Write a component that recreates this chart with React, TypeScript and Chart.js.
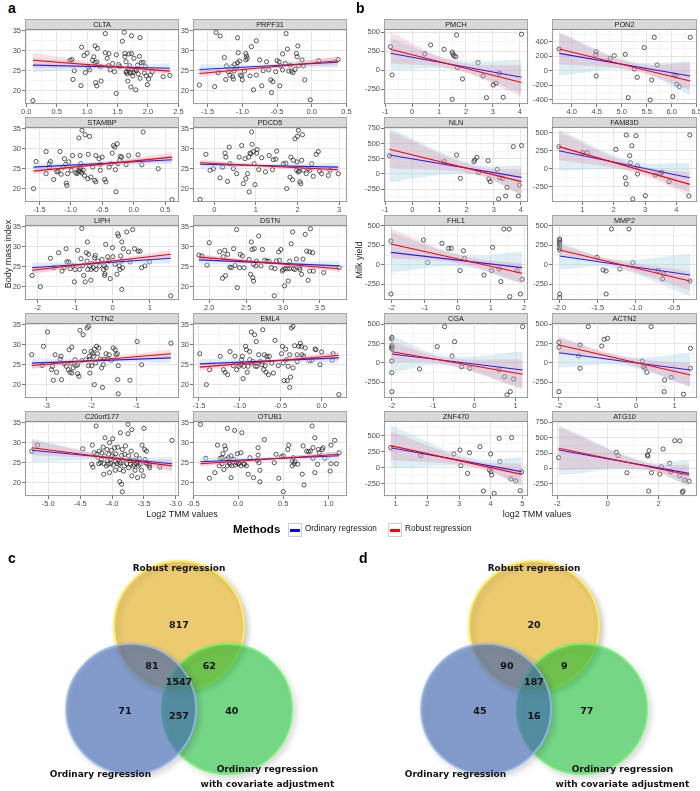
import React, { useEffect, useRef } from 'react';
import { Chart, registerables } from 'chart.js';
Chart.register(...registerables);

// ---------------- Panel a : Body mass index ----------------
const Y_A_TICKS = [20, 25, 30, 35];
const Y_A_LIM = [16.65, 35.45];

const CLTA_PTS = [[0.11,17.5],[0.72,27.6],[0.75,27.8],[0.77,22.8],[0.79,25.0],[0.91,30.9],[0.90,21.25],[0.95,28.8],[0.97,24.5],[1.0,29.4],[1.02,25.8],[1.04,25.2],[1.09,27.6],[1.11,28.5],[1.13,27.0],[1.13,31.2],[1.14,22.0],[1.16,21.2],[1.17,30.6],[1.16,27.2],[1.22,26.0],[1.23,22.4],[1.30,34.3],[1.30,29.5],[1.33,28.1],[1.36,29.25],[1.35,26.25],[1.38,25.2],[1.42,26.8],[1.45,24.75],[1.48,29.0],[1.48,19.3],[1.52,26.5],[1.54,26.0],[1.58,32.4],[1.61,34.6],[1.62,29.3],[1.62,28.5],[1.64,27.25],[1.65,24.75],[1.66,24.2],[1.67,22.4],[1.68,25.6],[1.69,29.2],[1.70,26.25],[1.72,24.4],[1.72,20.9],[1.73,33.75],[1.73,29.3],[1.75,23.7],[1.77,28.1],[1.79,25.2],[1.80,20.2],[1.81,25.0],[1.83,26.4],[1.84,24.2],[1.86,28.6],[1.87,33.3],[1.87,23.1],[1.89,27.0],[1.92,27.1],[1.94,24.4],[1.96,26.0],[1.97,23.7],[1.99,21.5],[2.01,22.9],[2.04,23.9],[2.07,24.75],[2.25,23.5],[2.36,23.8],[1.70,24.6],[1.76,24.6],[1.64,24.6]];
const CLTA_X = [0.11, 1.5, 2.36];
const CLTA_OLS = [26.4, 25.6];
const CLTA_OLS_LO = [24.65, 25.4, 24.35];
const CLTA_OLS_HI = [28.15, 26.4, 26.85];
const CLTA_ROB = [27.6, 24.9];
const CLTA_ROB_LO = [25.7, 25.5, 24.0];
const CLTA_ROB_HI = [29.5, 26.35, 25.8];
const CLTA_XTICKS = [0, 0.5, 1, 1.5, 2, 2.5];
const CLTA_XLIM = [-0.02, 2.51];

const PRPF31_PTS = [[-1.62,21.4],[-1.40,21.0],[-1.38,34.6],[-1.32,33.7],[-1.35,24.5],[-1.26,28.3],[-1.24,22.8],[-1.23,26.2],[-1.20,24.75],[-1.18,23.9],[-1.15,26.0],[-1.14,23.5],[-1.13,22.9],[-1.12,24.9],[-1.11,26.6],[-1.08,26.0],[-1.07,27.0],[-1.07,33.25],[-1.06,29.5],[-1.04,27.4],[-1.03,23.9],[-1.01,23.7],[-1.0,22.7],[-0.97,24.9],[-0.95,27.7],[-0.95,29.3],[-0.94,28.7],[-0.93,28.1],[-0.89,23.7],[-0.87,31.0],[-0.84,20.2],[-0.80,32.5],[-0.80,23.9],[-0.75,27.7],[-0.72,21.2],[-0.70,25.0],[-0.65,27.25],[-0.62,25.2],[-0.59,22.7],[-0.58,19.5],[-0.56,22.25],[-0.52,24.75],[-0.50,27.5],[-0.47,27.25],[-0.46,21.2],[-0.45,26.2],[-0.42,29.2],[-0.42,25.2],[-0.38,26.8],[-0.37,34.3],[-0.35,30.4],[-0.33,24.9],[-0.31,26.4],[-0.29,24.9],[-0.27,24.5],[-0.24,25.3],[-0.22,29.3],[-0.21,28.5],[-0.20,31.2],[-0.19,26.25],[-0.14,27.7],[-0.10,22.7],[-0.12,26.2],[-0.02,17.7],[0.10,27.5],[0.38,27.8]];
const PRPF31_X = [-1.62, -0.7, 0.38];
const PRPF31_OLS = [25.3, 27.1];
const PRPF31_OLS_LO = [24.0, 25.6, 25.8];
const PRPF31_OLS_HI = [26.6, 26.6, 28.4];
const PRPF31_ROB = [24.3, 27.5];
const PRPF31_ROB_LO = [23.4, 25.4, 26.4];
const PRPF31_ROB_HI = [25.2, 26.2, 28.6];
const PRPF31_XTICKS = [-1.5, -1.0, -0.5, 0.0, 0.5];
const PRPF31_XLIM = [-1.712, 0.509];

const STAMBP_PTS = [[-1.59,20.0],[-1.55,26.8],[-1.39,29.3],[-1.34,26.25],[-1.32,26.8],[-1.34,25.4],[-1.39,23.75],[-1.27,22.3],[-1.22,24.2],[-1.20,24.4],[-1.17,29.3],[-1.15,23.6],[-1.12,25.4],[-1.10,27.5],[-1.08,26.1],[-1.07,21.4],[-1.06,20.8],[-1.05,23.75],[-1.03,26.7],[-0.99,24.6],[-0.97,28.3],[-0.87,32.7],[-0.85,28.3],[-0.84,26.25],[-0.82,34.6],[-0.85,25.0],[-0.84,24.3],[-0.82,23.9],[-0.87,24.6],[-0.90,23.75],[-0.80,24.6],[-0.78,23.3],[-0.77,33.5],[-0.73,22.5],[-0.72,28.6],[-0.70,33.1],[-0.68,22.9],[-0.65,25.4],[-0.62,22.1],[-0.60,21.7],[-0.60,28.3],[-0.55,27.5],[-0.53,26.1],[-0.53,24.6],[-0.50,27.9],[-0.46,22.3],[-0.44,21.7],[-0.39,25.4],[-0.36,26.25],[-0.34,28.9],[-0.32,30.8],[-0.30,30.4],[-0.29,24.75],[-0.28,19.2],[-0.26,31.25],[-0.25,26.25],[-0.22,27.1],[-0.21,28.1],[-0.19,27.9],[-0.12,26.0],[-0.08,28.3],[0.07,28.5],[0.13,26.0],[0.15,34.2],[0.39,25.0],[0.61,17.25],[-0.88,24.2],[-0.92,24.0]];
const STAMBP_X = [-1.59, -0.6, 0.61];
const STAMBP_OLS = [25.4, 27.25];
const STAMBP_OLS_LO = [24.5, 25.7, 26.25];
const STAMBP_OLS_HI = [26.3, 26.75, 28.25];
const STAMBP_ROB = [24.4, 27.9];
const STAMBP_ROB_LO = [23.6, 25.55, 26.65];
const STAMBP_ROB_HI = [25.2, 26.4, 29.15];
const STAMBP_XTICKS = [-1.5, -1.0, -0.5, 0.0, 0.5];
const STAMBP_XLIM = [-1.725, 0.72];

const PDCD5_PTS = [[-0.34,17.3],[-0.20,28.6],[-0.10,24.6],[-0.02,25.0],[0.14,22.7],[0.20,25.4],[0.26,28.9],[0.28,27.9],[0.32,21.8],[0.36,30.4],[0.38,26.25],[0.46,25.0],[0.54,23.75],[0.60,27.9],[0.66,30.8],[0.70,21.25],[0.74,27.5],[0.76,22.5],[0.80,23.75],[0.83,27.9],[0.84,19.2],[0.86,28.9],[0.88,28.75],[0.90,34.2],[0.91,31.1],[0.94,29.3],[0.96,26.25],[0.98,21.0],[1.02,28.9],[1.03,29.8],[1.07,24.75],[1.14,27.75],[1.23,24.2],[1.32,28.3],[1.40,24.75],[1.42,27.25],[1.48,27.4],[1.50,29.4],[1.66,26.25],[1.72,26.4],[1.74,20.0],[1.82,22.9],[1.84,27.9],[1.88,22.25],[1.90,27.1],[1.94,32.5],[2.0,33.1],[2.02,34.6],[1.98,24.6],[1.99,26.7],[2.02,24.2],[2.04,24.4],[2.06,21.7],[2.08,21.25],[2.12,33.5],[2.10,27.1],[2.14,24.6],[2.21,23.75],[2.26,25.0],[2.30,24.6],[2.34,26.25],[2.38,23.1],[2.45,28.6],[2.50,29.3],[2.53,24.4],[2.58,23.75],[2.74,23.3],[2.78,24.6],[2.98,23.75]];
const PDCD5_X = [-0.34, 1.4, 2.98];
const PDCD5_OLS = [26.1, 25.4];
const PDCD5_OLS_LO = [25.1, 25.25, 24.4];
const PDCD5_OLS_HI = [27.1, 26.2, 26.4];
const PDCD5_ROB = [26.5, 24.75];
const PDCD5_ROB_LO = [25.9, 25.2, 24.15];
const PDCD5_ROB_HI = [27.1, 25.95, 25.35];
const PDCD5_XTICKS = [0, 1, 2, 3];
const PDCD5_XLIM = [-0.51, 3.19];

const LIPH_PTS = [[-2.15,22.8],[-1.93,20.0],[-1.66,27.1],[-1.57,24.75],[-1.44,28.5],[-1.35,23.9],[-1.29,24.75],[-1.24,29.5],[-1.22,26.2],[-1.17,26.2],[-1.13,24.5],[-1.06,25.2],[-1.02,21.2],[-1.0,24.3],[-0.93,29.1],[-0.88,24.3],[-0.84,27.0],[-0.82,34.6],[-0.79,25.3],[-0.77,22.8],[-0.73,21.2],[-0.70,28.5],[-0.68,26.4],[-0.67,31.2],[-0.66,24.3],[-0.64,28.1],[-0.61,25.2],[-0.58,21.6],[-0.57,24.3],[-0.54,25.8],[-0.51,24.75],[-0.48,27.25],[-0.46,27.8],[-0.44,24.3],[-0.39,26.4],[-0.35,25.2],[-0.28,26.8],[-0.24,24.3],[-0.21,22.8],[-0.20,23.25],[-0.18,30.6],[-0.21,25.2],[-0.17,24.75],[-0.13,27.5],[-0.09,26.4],[-0.06,22.0],[0.0,29.75],[0.01,27.5],[0.07,25.6],[0.12,23.1],[0.14,33.25],[0.16,32.7],[0.18,25.2],[0.20,24.3],[0.22,27.7],[0.25,26.4],[0.27,24.75],[0.25,31.2],[0.25,19.3],[0.29,29.5],[0.38,33.7],[0.43,28.7],[0.47,26.2],[0.54,34.3],[0.59,29.5],[0.69,28.9],[0.74,28.9],[0.78,24.75],[0.87,25.2],[0.99,26.2],[1.56,17.7]];
const LIPH_X = [-2.15, -0.3, 1.56];
const LIPH_OLS = [24.75, 27.1];
const LIPH_OLS_LO = [23.45, 25.45, 25.8];
const LIPH_OLS_HI = [26.05, 26.4, 28.4];
const LIPH_ROB = [24.1, 28.1];
const LIPH_ROB_LO = [23.1, 25.7, 27.0];
const LIPH_ROB_HI = [25.1, 26.5, 29.2];
const LIPH_XTICKS = [-2, -1, 0, 1];
const LIPH_XLIM = [-2.34, 1.78];

const DSTN_PTS = [[1.86,27.9],[1.90,27.7],[1.97,25.4],[2.0,31.0],[2.14,28.75],[2.18,22.1],[2.19,27.5],[2.21,29.1],[2.22,22.75],[2.25,28.1],[2.28,24.9],[2.30,24.75],[2.33,29.5],[2.35,25.3],[2.37,34.3],[2.38,19.75],[2.41,24.75],[2.42,28.1],[2.45,27.7],[2.47,24.75],[2.54,26.8],[2.56,23.1],[2.57,31.2],[2.58,29.3],[2.59,22.25],[2.60,25.6],[2.60,21.4],[2.61,29.5],[2.63,25.2],[2.64,26.4],[2.67,32.7],[2.70,25.2],[2.72,29.3],[2.75,26.6],[2.78,26.4],[2.81,26.4],[2.84,24.75],[2.88,17.7],[2.89,24.5],[2.91,26.4],[2.94,28.7],[2.95,26.6],[2.97,29.3],[2.99,23.9],[3.0,24.3],[3.02,20.2],[3.03,24.5],[3.06,24.5],[3.07,21.4],[3.09,24.5],[3.09,26.4],[3.11,30.75],[3.13,33.7],[3.14,24.5],[3.16,24.3],[3.18,26.9],[3.22,24.75],[3.23,24.3],[3.25,23.1],[3.27,26.9],[3.30,33.1],[3.32,28.9],[3.34,21.6],[3.36,28.7],[3.36,23.9],[3.37,34.5],[3.40,28.5],[3.41,23.9],[3.55,23.5],[3.76,24.75]];
const DSTN_X = [1.86, 2.8, 3.76];
const DSTN_OLS = [26.7, 25.2];
const DSTN_OLS_LO = [25.5, 25.5, 24.0];
const DSTN_OLS_HI = [27.9, 26.4, 26.4];
const DSTN_ROB = [27.4, 24.5];
const DSTN_ROB_LO = [26.6, 25.6, 23.7];
const DSTN_ROB_HI = [28.2, 26.3, 25.3];
const DSTN_XTICKS = [2.0, 2.5, 3.0, 3.5];
const DSTN_XLIM = [1.78, 3.866];

const TCTN2_PTS = [[-3.33,27.5],[-3.10,24.8],[-3.07,29.6],[-2.98,33.2],[-2.89,23.75],[-2.87,24.6],[-2.85,21.1],[-2.81,27.5],[-2.78,23.1],[-2.70,26.4],[-2.68,27.1],[-2.67,21.25],[-2.61,25.25],[-2.56,24.6],[-2.52,23.75],[-2.50,28.75],[-2.48,23.1],[-2.46,25.4],[-2.44,29.4],[-2.44,22.9],[-2.41,24.2],[-2.37,26.25],[-2.35,24.75],[-2.31,25.0],[-2.31,22.75],[-2.28,22.1],[-2.26,33.6],[-2.22,26.0],[-2.19,32.5],[-2.16,28.3],[-2.13,26.25],[-2.10,34.2],[-2.07,34.6],[-2.07,24.75],[-2.05,27.1],[-2.04,26.4],[-2.04,22.9],[-2.01,28.3],[-2.0,24.75],[-1.98,27.75],[-1.96,27.1],[-1.94,28.9],[-1.94,20.0],[-1.91,25.4],[-1.89,29.6],[-1.87,27.75],[-1.84,29.2],[-1.81,26.4],[-1.78,24.2],[-1.76,19.3],[-1.74,25.0],[-1.72,26.4],[-1.68,27.75],[-1.64,26.4],[-1.61,27.5],[-1.56,26.1],[-1.52,29.2],[-1.48,28.75],[-1.46,27.5],[-1.43,27.75],[-1.42,21.25],[-1.41,17.7],[-1.41,24.75],[-1.15,21.1],[-0.99,30.8],[-0.89,25.0],[-0.24,30.4]];
const TCTN2_X = [-3.33, -2.0, -0.24];
const TCTN2_OLS = [25.4, 26.7];
const TCTN2_OLS_LO = [24.2, 25.5, 25.4];
const TCTN2_OLS_HI = [26.6, 26.4, 28.0];
const TCTN2_ROB = [24.8, 27.75];
const TCTN2_ROB_LO = [23.9, 25.7, 26.65];
const TCTN2_ROB_HI = [25.7, 26.45, 28.85];
const TCTN2_XTICKS = [-3, -2, -1];
const TCTN2_XLIM = [-3.48, -0.06];

const EML4_PTS = [[-1.49,27.75],[-1.41,20.0],[-1.37,23.75],[-1.24,27.1],[-1.20,23.75],[-1.18,23.1],[-1.15,22.5],[-1.12,28.3],[-1.08,24.75],[-1.06,27.1],[-1.04,23.75],[-1.01,24.6],[-0.99,25.0],[-0.98,26.25],[-0.97,27.1],[-0.96,21.5],[-0.95,24.6],[-0.93,29.6],[-0.92,28.75],[-0.91,23.1],[-0.90,24.6],[-0.88,26.25],[-0.88,28.3],[-0.86,33.2],[-0.86,25.4],[-0.84,25.8],[-0.82,32.5],[-0.81,24.6],[-0.80,30.8],[-0.79,24.6],[-0.77,27.5],[-0.75,25.8],[-0.73,25.0],[-0.72,33.75],[-0.71,23.75],[-0.70,27.5],[-0.69,24.75],[-0.68,23.1],[-0.67,27.1],[-0.66,26.25],[-0.65,22.5],[-0.64,27.1],[-0.61,25.4],[-0.59,22.9],[-0.57,31.1],[-0.53,24.75],[-0.49,27.75],[-0.48,29.6],[-0.47,25.4],[-0.46,21.0],[-0.44,28.9],[-0.43,26.25],[-0.42,21.0],[-0.41,24.6],[-0.39,19.3],[-0.39,27.5],[-0.38,21.9],[-0.37,34.2],[-0.35,34.6],[-0.35,24.2],[-0.33,29.75],[-0.30,25.8],[-0.30,27.5],[-0.28,29.6],[-0.26,30.4],[-0.25,29.6],[-0.24,27.5],[-0.22,27.1],[-0.20,29.2],[-0.15,26.0],[-0.12,26.1],[-0.08,28.9],[-0.07,28.75],[-0.02,25.0],[0.0,28.2],[0.13,26.1],[0.14,27.75],[0.21,17.5]];
const EML4_X = [-1.49, -0.65, 0.21];
const EML4_OLS = [25.2, 26.7];
const EML4_OLS_LO = [24.0, 25.5, 25.5];
const EML4_OLS_HI = [26.4, 26.4, 27.9];
const EML4_ROB = [24.4, 27.3];
const EML4_ROB_LO = [23.4, 25.45, 26.3];
const EML4_ROB_HI = [25.4, 26.2, 28.3];
const EML4_XTICKS = [-1.5, -1.0, -0.5, 0.0];
const EML4_XLIM = [-1.573, 0.31];

const C20ORF177_PTS = [[-5.26,27.9],[-5.17,29.4],[-4.46,28.5],[-4.32,24.6],[-4.31,29.4],[-4.30,23.9],[-4.28,27.5],[-4.25,34.2],[-4.24,27.1],[-4.22,26.25],[-4.21,24.75],[-4.20,27.9],[-4.18,25.0],[-4.17,25.8],[-4.16,27.5],[-4.14,28.9],[-4.13,24.75],[-4.13,22.1],[-4.12,26.7],[-4.11,31.25],[-4.09,24.2],[-4.08,28.3],[-4.07,25.6],[-4.06,24.6],[-4.05,27.1],[-4.04,30.0],[-4.04,22.5],[-4.03,25.8],[-4.02,24.75],[-4.01,28.1],[-4.0,26.7],[-3.99,31.0],[-3.98,24.4],[-3.97,26.25],[-3.96,28.75],[-3.95,25.4],[-3.95,23.1],[-3.94,27.25],[-3.92,24.75],[-3.91,28.9],[-3.91,25.8],[-3.89,24.6],[-3.88,20.25],[-3.88,23.3],[-3.87,32.5],[-3.87,25.0],[-3.85,19.6],[-3.85,26.8],[-3.84,17.7],[-3.84,28.3],[-3.83,25.6],[-3.82,22.9],[-3.81,24.2],[-3.80,27.1],[-3.79,29.2],[-3.77,24.75],[-3.75,32.25],[-3.74,26.7],[-3.74,23.75],[-3.72,25.6],[-3.71,24.6],[-3.70,27.9],[-3.69,33.3],[-3.69,21.7],[-3.67,24.2],[-3.66,25.6],[-3.65,24.6],[-3.64,23.1],[-3.62,26.9],[-3.61,24.75],[-3.60,25.4],[-3.60,21.25],[-3.75,34.6],[-3.59,24.2],[-3.57,26.0],[-3.56,24.6],[-3.54,23.1],[-3.53,29.4],[-3.51,21.7],[-3.50,33.6],[-3.49,28.3],[-3.48,25.8],[-3.47,25.0],[-3.46,27.9],[-3.45,24.75],[-3.42,24.2],[-3.41,24.75],[-3.41,23.75],[-3.25,23.9],[-3.06,30.6]];
const C20ORF177_X = [-5.26, -3.85, -3.06];
const C20ORF177_OLS = [28.1, 24.75];
const C20ORF177_OLS_LO = [25.2, 25.5, 23.05];
const C20ORF177_OLS_HI = [31.0, 26.4, 26.45];
const C20ORF177_ROB = [28.75, 24.2];
const C20ORF177_ROB_LO = [26.9, 25.45, 22.7];
const C20ORF177_ROB_HI = [30.6, 26.2, 25.7];
const C20ORF177_XTICKS = [-5.0, -4.5, -4.0, -3.5, -3.0];
const C20ORF177_XLIM = [-5.366, -2.95];

const OTUB1_PTS = [[-0.42,34.6],[-0.36,26.1],[-0.32,21.1],[-0.26,22.5],[-0.23,29.4],[-0.21,24.2],[-0.20,26.1],[-0.18,24.75],[-0.18,26.25],[-0.17,27.25],[-0.16,23.3],[-0.15,29.2],[-0.14,28.4],[-0.13,25.8],[-0.12,33.6],[-0.12,24.2],[-0.11,26.25],[-0.10,25.0],[-0.09,24.6],[-0.08,26.7],[-0.08,21.25],[-0.07,24.2],[-0.05,25.8],[-0.04,33.1],[-0.03,24.4],[-0.02,25.0],[-0.01,27.25],[0.0,24.75],[0.01,24.75],[0.03,27.5],[0.03,24.2],[0.04,32.5],[0.06,24.75],[0.07,24.6],[0.09,24.2],[0.11,22.1],[0.13,26.25],[0.17,21.25],[0.21,25.6],[0.22,28.75],[0.22,26.9],[0.23,25.0],[0.24,23.1],[0.24,20.2],[0.29,30.8],[0.40,25.0],[0.42,27.1],[0.45,21.1],[0.48,26.5],[0.50,17.75],[0.50,26.75],[0.55,28.3],[0.56,29.4],[0.60,24.2],[0.60,25.4],[0.61,26.25],[0.62,24.75],[0.63,25.25],[0.66,24.6],[0.71,22.1],[0.72,29.2],[0.73,19.4],[0.76,27.9],[0.78,27.75],[0.80,27.9],[0.82,34.2],[0.83,28.75],[0.83,26.1],[0.85,31.25],[0.85,22.5],[0.88,24.6],[0.89,28.3],[0.90,27.5],[0.93,28.3],[0.94,28.75],[0.96,26.1],[1.02,22.9],[1.03,24.75],[1.03,29.4],[1.07,30.6],[1.09,24.75],[1.12,27.5]];
const OTUB1_X = [-0.42, 0.35, 1.12];
const OTUB1_OLS = [25.25, 26.75];
const OTUB1_OLS_LO = [24.25, 25.55, 25.75];
const OTUB1_OLS_HI = [26.25, 26.45, 27.75];
const OTUB1_ROB = [24.75, 27.1];
const OTUB1_ROB_LO = [24.05, 25.55, 26.4];
const OTUB1_ROB_HI = [25.45, 26.3, 27.8];
const OTUB1_XTICKS = [-0.5, 0.0, 0.5, 1.0];
const OTUB1_XLIM = [-0.502, 1.207];

// ---------------- Panel b : Milk yield ----------------
const PMCH_PTS = [[-0.80,311],[-0.74,-61],[0.47,215],[0.69,333],[1.19,276],[1.49,237],[1.52,211],[1.56,189],[1.62,180],[1.65,465],[1.68,35],[1.49,-382],[1.87,-114],[2.45,101],[2.63,-75],[2.76,-360],[3.01,-193],[3.11,-171],[3.24,-40],[3.38,-355],[4.06,474]];
const PMCH_X = [-0.80, 1.6, 4.06];
const PMCH_OLS = [224, -92];
const PMCH_OLS_LO = [-4, 3, -303];
const PMCH_OLS_HI = [421, 133, 136];
const PMCH_ROB = [276, -160];
const PMCH_ROB_LO = [92, 6, -347];
const PMCH_ROB_HI = [500, 116, 70];
const PMCH_XTICKS = [-1, 0, 1, 2, 3, 4];
const PMCH_XLIM = [-1.04, 4.3];
const PMCH_YTICKS = [-250, 0, 250, 500];
const PMCH_YLIM = [-443, 543];

const PON2_PTS = [[3.75,299],[4.49,263],[4.48,217],[4.77,171],[4.85,208],[4.49,-71],[5.07,226],[5.13,-368],[5.45,318],[5.25,25],[5.31,-89],[5.65,459],[5.60,-126],[5.57,-400],[5.71,80],[6.02,-354],[6.05,-57],[6.09,-71],[6.10,-185],[6.15,-217],[6.37,459]];
const PON2_X = [3.75, 5.2, 6.37];
const PON2_OLS = [240, -71];
const PON2_OLS_LO = [-71, 8, -331];
const PON2_OLS_HI = [528, 128, 135];
const PON2_ROB = [299, -139];
const PON2_ROB_LO = [90, 5, -263];
const PON2_ROB_HI = [514, 110, 103];
const PON2_XTICKS = [4.0, 4.5, 5.0, 5.5, 6.0, 6.5];
const PON2_XLIM = [3.606, 6.505];
const PON2_YTICKS = [-400, -200, 0, 200, 400];
const PON2_YLIM = [-455, 574];

const NLN_PTS = [[-0.84,299],[1.18,200],[1.63,310],[1.77,-74],[2.27,200],[2.30,230],[2.38,270],[2.44,25],[2.79,217],[2.82,-85],[2.87,-129],[3.13,74],[3.22,-63],[3.32,-74],[3.49,-223],[3.44,-365],[3.72,448],[3.90,-365],[3.94,-184],[4.02,464],[3.18,-415]];
const NLN_X = [-0.84, 2.3, 4.02];
const NLN_OLS = [310, -58];
const NLN_OLS_LO = [-129, -13, -349];
const NLN_OLS_HI = [750, 157, 129];
const NLN_ROB = [404, -129];
const NLN_ROB_LO = [91, -10, -349];
const NLN_ROB_HI = [706, 130, 74];
const NLN_XTICKS = [-1, 0, 1, 2, 3, 4];
const NLN_XLIM = [-1.04, 4.26];
const NLN_YTICKS = [-250, 0, 250, 500, 750];
const NLN_YLIM = [-464, 771];

const FAM83D_PTS = [[0.25,306],[1.01,222],[1.16,222],[2.07,268],[2.40,468],[2.37,-125],[2.40,-213],[2.51,181],[2.53,83],[2.58,319],[2.61,-421],[2.71,458],[2.76,37],[2.76,-74],[3.01,-375],[3.33,-88],[3.49,-74],[3.54,-51],[3.77,-181],[4.43,468],[4.40,-380]];
const FAM83D_X = [0.25, 2.6, 4.43];
const FAM83D_OLS = [250, -125];
const FAM83D_OLS_LO = [-28, -31, -325];
const FAM83D_OLS_HI = [546, 109, 75];
const FAM83D_ROB = [306, -218];
const FAM83D_ROB_LO = [120, -45, -366];
const FAM83D_ROB_HI = [514, 67, -56];
const FAM83D_XTICKS = [1, 2, 3, 4];
const FAM83D_XLIM = [0.03, 4.66];
const FAM83D_YTICKS = [-250, 0, 250, 500];
const FAM83D_YLIM = [-463, 579];

const FHL1_PTS = [[-2.02,304],[-2.02,-374],[-1.04,317],[-0.91,27],[-0.48,274],[-0.28,210],[-0.20,210],[0.07,-75],[0.17,180],[0.20,82],[0.79,-131],[1.02,-75],[1.05,223],[1.25,-54],[1.30,-216],[1.39,457],[1.55,457],[1.57,-408],[1.79,-75],[1.89,-374],[1.94,-186]];
const FHL1_X = [-2.02, 0.1, 1.94];
const FHL1_OLS = [159, -37];
const FHL1_OLS_LO = [-101, -26, -242];
const FHL1_OLS_HI = [410, 134, 168];
const FHL1_ROB = [266, -109];
const FHL1_ROB_LO = [82, 10, -237];
const FHL1_ROB_HI = [466, 120, 19];
const FHL1_XTICKS = [-2, -1, 0, 1, 2];
const FHL1_XLIM = [-2.23, 2.12];
const FHL1_YTICKS = [-250, 0, 250, 500];
const FHL1_YLIM = [-451, 509];

const MMP2_PTS = [[-2.0,330],[-2.0,308],[-2.0,283],[-2.0,253],[-2.0,219],[-2.0,189],[-2.0,-374],[-2.0,-420],[-1.51,95],[-1.32,457],[-1.43,-67],[-1.39,-80],[-1.39,-374],[-1.21,-54],[-1.09,457],[-1.04,27],[-0.71,-75],[-0.65,-182],[-0.64,-118],[-0.29,-207]];
const MMP2_X = [-2.0, -1.3, -0.29];
const MMP2_OLS = [112, -131];
const MMP2_OLS_LO = [-60, -40, -400];
const MMP2_OLS_HI = [290, 70, 140];
const MMP2_ROB = [189, -207];
const MMP2_ROB_LO = [125, -13, -330];
const MMP2_ROB_HI = [253, 67, -80];
const MMP2_XTICKS = [-2.0, -1.5, -1.0, -0.5];
const MMP2_XLIM = [-2.1, -0.198];
const MMP2_YTICKS = [-250, 0, 250, 500];
const MMP2_YLIM = [-451, 509];

const CGA_PTS = [[-2.0,329],[-2.0,307],[-2.0,221],[-2.0,200],[-2.0,179],[-2.0,24],[-2.0,-126],[-2.0,-370],[-1.33,-79],[-0.72,466],[-0.90,209],[-0.48,273],[-0.54,89],[-0.31,-49],[-0.11,-70],[0.60,-91],[0.73,-177],[0.79,-413],[0.87,-370],[0.95,-207],[1.17,466]];
const CGA_X = [-2.0, -0.7, 1.17];
const CGA_OLS = [114, -91];
const CGA_OLS_LO = [-121, -30, -327];
const CGA_OLS_HI = [349, 90, 145];
const CGA_ROB = [144, -147];
const CGA_ROB_LO = [16, -20, -340];
const CGA_ROB_HI = [273, 70, 46];
const CGA_XTICKS = [-2, -1, 0, 1];
const CGA_XLIM = [-2.19, 1.3];
const CGA_YTICKS = [-250, 0, 250, 500];
const CGA_YLIM = [-452, 513];

const ACTN2_PTS = [[-2.0,264],[-2.0,200],[-2.0,-370],[-1.45,230],[-1.49,89],[-1.45,-70],[-1.24,466],[-0.89,217],[-0.83,303],[-0.74,316],[0.16,24],[0.19,-49],[0.23,-70],[0.28,-121],[0.39,466],[0.74,-220],[0.73,-370],[0.91,-186],[1.23,-404],[1.41,187],[1.41,-70]];
const ACTN2_X = [-2.0, -0.3, 1.41];
const ACTN2_OLS = [131, -91];
const ACTN2_OLS_LO = [-60, -40, -309];
const ACTN2_OLS_HI = [322, 80, 127];
const ACTN2_ROB = [230, -156];
const ACTN2_ROB_LO = [123, -7, -306];
const ACTN2_ROB_HI = [337, 83, -6];
const ACTN2_XTICKS = [-2, -1, 0, 1];
const ACTN2_XLIM = [-2.18, 1.58];
const ACTN2_YTICKS = [-250, 0, 250, 500];
const ACTN2_YLIM = [-452, 513];

const ZNF470_PTS = [[0.84,312],[1.79,187],[2.84,214],[3.03,276],[3.06,31],[3.33,234],[3.27,-89],[3.66,328],[3.77,-365],[4.0,214],[3.96,-36],[4.01,-62],[4.03,-115],[4.11,-401],[4.27,458],[4.29,94],[4.66,469],[4.64,-177],[4.79,-208],[4.93,-359],[4.98,-62]];
const ZNF470_X = [0.84, 3.5, 4.98];
const ZNF470_OLS = [312, -62];
const ZNF470_OLS_LO = [-10, 2, -292];
const ZNF470_OLS_HI = [660, 142, 168];
const ZNF470_ROB = [344, -104];
const ZNF470_ROB_LO = [120, 5, -271];
const ZNF470_ROB_HI = [570, 107, 63];
const ZNF470_XTICKS = [1, 2, 3, 4, 5];
const ZNF470_XLIM = [0.63, 5.18];
const ZNF470_YTICKS = [-250, 0, 250, 500];
const ZNF470_YLIM = [-442, 729];

const ATG10_PTS = [[-1.95,174],[0.33,261],[0.40,207],[0.75,-71],[1.56,217],[1.58,201],[1.62,288],[1.61,-370],[1.72,-71],[2.18,315],[2.05,-92],[2.44,81],[2.48,-54],[2.64,451],[2.84,446],[2.84,-120],[3.04,-190],[2.97,-370],[2.94,-391],[3.21,-207],[2.11,27]];
const ATG10_X = [-1.95, 1.5, 3.21];
const ATG10_OLS = [299, -82];
const ATG10_OLS_LO = [-109, -20, -299];
const ATG10_OLS_HI = [707, 108, 135];
const ATG10_ROB = [326, -109];
const ATG10_ROB_LO = [-27, -25, -272];
const ATG10_ROB_HI = [679, 95, 54];
const ATG10_XTICKS = [-2, 0, 2];
const ATG10_XLIM = [-2.21, 3.52];
const ATG10_YTICKS = [-250, 0, 250, 500, 750];
const ATG10_YLIM = [-450, 771];

// ---------------- Venn diagrams ----------------
const VENN_SET_LABELS = ['Robust regression', 'Ordinary regression', 'Ordinary regression', 'with covariate adjustment'];
// region order: robust only, ordinary only, covariate only, R∩O, R∩C, O∩C, all three
const VENN_C_COUNTS = [817, 71, 40, 81, 62, 257, 1547];
const VENN_D_COUNTS = [20, 45, 77, 90, 9, 16, 187];

// ---------------- layout / style ----------------
const FONT = '"Liberation Sans", Arial, Helvetica, sans-serif';
const A_LEFT = [25, 193];
const A_W = [154, 154];
const B_LEFT = [384, 552];
const B_W = [144, 145];
const ROW_TOP0 = 29;
const ROW_PITCH = 98;
const PLOT_H = 75;
const STRIP_H = 10;
const XAX_H = 13;
const YW_A = 24;
const YW_B = 27;
const RPAD = 9;

const VENN_R = 66;
const VENN_CENTERS = [[0, 0.63], [-0.727, -0.63], [0.727, -0.63]];
const VENN_REGION_POS = [[0, 0.64], [-0.82, -0.67], [0.8, -0.67], [-0.41, 0.02], [0.46, 0.02], [0, -0.75], [0, -0.23]];
const VENN_LABEL_POS = [[0, 1.5], [-1.19, -1.63], [1.34, -1.55], [1.34, -1.77]];
const VENN_FILL = ['rgb(236,203,110)', 'rgba(70,110,190,0.6)', 'rgba(30,205,60,0.55)'];
const VENN_EDGE = ['rgba(255,240,90,0.9)', 'rgba(150,185,240,0.8)', 'rgba(110,245,110,0.85)'];

type Facet = {
  name: string; pts: number[][]; bx: number[]; ols: number[]; olsLo: number[]; olsHi: number[];
  rob: number[]; robLo: number[]; robHi: number[]; xticks: number[]; xlim: number[]; xdec: number;
  yticks: number[]; ylim: number[]; panel: 'a' | 'b'; col: number; row: number;
};

function fa(name: string, pts: number[][], bx: number[], ols: number[], olsLo: number[], olsHi: number[], rob: number[], robLo: number[], robHi: number[], xticks: number[], xlim: number[], xdec: number, col: number, row: number): Facet {
  return { name, pts, bx, ols, olsLo, olsHi, rob, robLo, robHi, xticks, xlim, xdec, yticks: Y_A_TICKS, ylim: Y_A_LIM, panel: 'a', col, row };
}
function fb(name: string, pts: number[][], bx: number[], ols: number[], olsLo: number[], olsHi: number[], rob: number[], robLo: number[], robHi: number[], xticks: number[], xlim: number[], xdec: number, yticks: number[], ylim: number[], col: number, row: number): Facet {
  return { name, pts, bx, ols, olsLo, olsHi, rob, robLo, robHi, xticks, xlim, xdec, yticks, ylim, panel: 'b', col, row };
}

const FACETS: Facet[] = [
  fa('CLTA', CLTA_PTS, CLTA_X, CLTA_OLS, CLTA_OLS_LO, CLTA_OLS_HI, CLTA_ROB, CLTA_ROB_LO, CLTA_ROB_HI, CLTA_XTICKS, CLTA_XLIM, 1, 0, 0),
  fa('PRPF31', PRPF31_PTS, PRPF31_X, PRPF31_OLS, PRPF31_OLS_LO, PRPF31_OLS_HI, PRPF31_ROB, PRPF31_ROB_LO, PRPF31_ROB_HI, PRPF31_XTICKS, PRPF31_XLIM, 1, 1, 0),
  fa('STAMBP', STAMBP_PTS, STAMBP_X, STAMBP_OLS, STAMBP_OLS_LO, STAMBP_OLS_HI, STAMBP_ROB, STAMBP_ROB_LO, STAMBP_ROB_HI, STAMBP_XTICKS, STAMBP_XLIM, 1, 0, 1),
  fa('PDCD5', PDCD5_PTS, PDCD5_X, PDCD5_OLS, PDCD5_OLS_LO, PDCD5_OLS_HI, PDCD5_ROB, PDCD5_ROB_LO, PDCD5_ROB_HI, PDCD5_XTICKS, PDCD5_XLIM, 0, 1, 1),
  fa('LIPH', LIPH_PTS, LIPH_X, LIPH_OLS, LIPH_OLS_LO, LIPH_OLS_HI, LIPH_ROB, LIPH_ROB_LO, LIPH_ROB_HI, LIPH_XTICKS, LIPH_XLIM, 0, 0, 2),
  fa('DSTN', DSTN_PTS, DSTN_X, DSTN_OLS, DSTN_OLS_LO, DSTN_OLS_HI, DSTN_ROB, DSTN_ROB_LO, DSTN_ROB_HI, DSTN_XTICKS, DSTN_XLIM, 1, 1, 2),
  fa('TCTN2', TCTN2_PTS, TCTN2_X, TCTN2_OLS, TCTN2_OLS_LO, TCTN2_OLS_HI, TCTN2_ROB, TCTN2_ROB_LO, TCTN2_ROB_HI, TCTN2_XTICKS, TCTN2_XLIM, 0, 0, 3),
  fa('EML4', EML4_PTS, EML4_X, EML4_OLS, EML4_OLS_LO, EML4_OLS_HI, EML4_ROB, EML4_ROB_LO, EML4_ROB_HI, EML4_XTICKS, EML4_XLIM, 1, 1, 3),
  fa('C20orf177', C20ORF177_PTS, C20ORF177_X, C20ORF177_OLS, C20ORF177_OLS_LO, C20ORF177_OLS_HI, C20ORF177_ROB, C20ORF177_ROB_LO, C20ORF177_ROB_HI, C20ORF177_XTICKS, C20ORF177_XLIM, 1, 0, 4),
  fa('OTUB1', OTUB1_PTS, OTUB1_X, OTUB1_OLS, OTUB1_OLS_LO, OTUB1_OLS_HI, OTUB1_ROB, OTUB1_ROB_LO, OTUB1_ROB_HI, OTUB1_XTICKS, OTUB1_XLIM, 1, 1, 4),
  fb('PMCH', PMCH_PTS, PMCH_X, PMCH_OLS, PMCH_OLS_LO, PMCH_OLS_HI, PMCH_ROB, PMCH_ROB_LO, PMCH_ROB_HI, PMCH_XTICKS, PMCH_XLIM, 0, PMCH_YTICKS, PMCH_YLIM, 0, 0),
  fb('PON2', PON2_PTS, PON2_X, PON2_OLS, PON2_OLS_LO, PON2_OLS_HI, PON2_ROB, PON2_ROB_LO, PON2_ROB_HI, PON2_XTICKS, PON2_XLIM, 1, PON2_YTICKS, PON2_YLIM, 1, 0),
  fb('NLN', NLN_PTS, NLN_X, NLN_OLS, NLN_OLS_LO, NLN_OLS_HI, NLN_ROB, NLN_ROB_LO, NLN_ROB_HI, NLN_XTICKS, NLN_XLIM, 0, NLN_YTICKS, NLN_YLIM, 0, 1),
  fb('FAM83D', FAM83D_PTS, FAM83D_X, FAM83D_OLS, FAM83D_OLS_LO, FAM83D_OLS_HI, FAM83D_ROB, FAM83D_ROB_LO, FAM83D_ROB_HI, FAM83D_XTICKS, FAM83D_XLIM, 0, FAM83D_YTICKS, FAM83D_YLIM, 1, 1),
  fb('FHL1', FHL1_PTS, FHL1_X, FHL1_OLS, FHL1_OLS_LO, FHL1_OLS_HI, FHL1_ROB, FHL1_ROB_LO, FHL1_ROB_HI, FHL1_XTICKS, FHL1_XLIM, 0, FHL1_YTICKS, FHL1_YLIM, 0, 2),
  fb('MMP2', MMP2_PTS, MMP2_X, MMP2_OLS, MMP2_OLS_LO, MMP2_OLS_HI, MMP2_ROB, MMP2_ROB_LO, MMP2_ROB_HI, MMP2_XTICKS, MMP2_XLIM, 1, MMP2_YTICKS, MMP2_YLIM, 1, 2),
  fb('CGA', CGA_PTS, CGA_X, CGA_OLS, CGA_OLS_LO, CGA_OLS_HI, CGA_ROB, CGA_ROB_LO, CGA_ROB_HI, CGA_XTICKS, CGA_XLIM, 0, CGA_YTICKS, CGA_YLIM, 0, 3),
  fb('ACTN2', ACTN2_PTS, ACTN2_X, ACTN2_OLS, ACTN2_OLS_LO, ACTN2_OLS_HI, ACTN2_ROB, ACTN2_ROB_LO, ACTN2_ROB_HI, ACTN2_XTICKS, ACTN2_XLIM, 0, ACTN2_YTICKS, ACTN2_YLIM, 1, 3),
  fb('ZNF470', ZNF470_PTS, ZNF470_X, ZNF470_OLS, ZNF470_OLS_LO, ZNF470_OLS_HI, ZNF470_ROB, ZNF470_ROB_LO, ZNF470_ROB_HI, ZNF470_XTICKS, ZNF470_XLIM, 0, ZNF470_YTICKS, ZNF470_YLIM, 0, 4),
  fb('ATG10', ATG10_PTS, ATG10_X, ATG10_OLS, ATG10_OLS_LO, ATG10_OLS_HI, ATG10_ROB, ATG10_ROB_LO, ATG10_ROB_HI, ATG10_XTICKS, ATG10_XLIM, 0, ATG10_YTICKS, ATG10_YLIM, 1, 4),
];

function facetBox(f: Facet) {
  const isA = f.panel === 'a';
  const plotLeft = isA ? A_LEFT[f.col] : B_LEFT[f.col];
  const plotW = isA ? A_W[f.col] : B_W[f.col];
  const yW = isA ? YW_A : YW_B;
  return {
    left: plotLeft - yW,
    top: ROW_TOP0 + f.row * ROW_PITCH - STRIP_H,
    width: yW + plotW + RPAD,
    height: STRIP_H + PLOT_H + XAX_H,
    yW,
  };
}

function withMinor(major: number[], lim: number[]) {
  const step = major[1] - major[0];
  const out = [...major];
  const cands = [major[0] - step / 2, ...major.map((m) => m + step / 2)];
  cands.forEach((v) => { if (v > lim[0] && v < lim[1]) out.push(v); });
  return out.filter((v) => v >= lim[0] - 1e-9 && v <= lim[1] + 1e-9).sort((a, b) => a - b);
}
const isMajor = (arr: number[], v: any) => typeof v === 'number' && arr.some((m) => Math.abs(m - v) < 1e-9);

const facetPlugin = {
  id: 'facetDeco',
  beforeDraw(chart: any) {
    const { ctx, chartArea: a } = chart;
    const name = chart.options.plugins.facetDeco.name;
    ctx.save();
    ctx.fillStyle = '#d9d9d9';
    ctx.fillRect(a.left, a.top - STRIP_H, a.right - a.left, STRIP_H);
    ctx.strokeStyle = '#9a9a9a';
    ctx.lineWidth = 0.8;
    ctx.strokeRect(a.left + 0.4, a.top - STRIP_H + 0.4, a.right - a.left - 0.8, STRIP_H);
    ctx.fillStyle = '#1a1a1a';
    ctx.font = `7.3px ${FONT}`;
    ctx.textAlign = 'center';
    ctx.textBaseline = 'middle';
    ctx.fillText(name, (a.left + a.right) / 2, a.top - STRIP_H / 2 + 0.5);
    ctx.restore();
  },
  afterDraw(chart: any) {
    const { ctx, chartArea: a } = chart;
    ctx.save();
    ctx.strokeStyle = '#8c8c8c';
    ctx.lineWidth = 0.9;
    ctx.strokeRect(a.left + 0.4, a.top + 0.4, a.right - a.left - 0.8, a.bottom - a.top - 0.8);
    ctx.restore();
  },
};

function makeFacet(canvas: HTMLCanvasElement, f: Facet, yW: number) {
  const allX = withMinor(f.xticks, f.xlim);
  const allY = withMinor(f.yticks, f.ylim);
  const band = (ys: number[]) => f.bx.map((x, i) => ({ x, y: ys[i] }));
  const ends = (ys: number[]) => [{ x: f.bx[0], y: ys[0] }, { x: f.bx[2], y: ys[1] }];
  const pts = [...f.pts].sort((p, q) => p[0] - q[0]).map(([x, y]) => ({ x, y }));
  const yDec = 0;
  const clear = 'rgba(0,0,0,0)';
  const edge = { borderColor: clear, borderWidth: 0, pointRadius: 0, tension: 0.4 };
  const tickFont = { family: FONT, size: 7.5 };
  const gridColor = (arr: number[]) => (c: any) => (isMajor(arr, c.tick && c.tick.value) ? '#e4e4e4' : '#f4f4f4');
  const tickColor = (arr: number[]) => (c: any) => (isMajor(arr, c.tick && c.tick.value) ? '#7a7a7a' : clear);
  return new Chart(canvas, {
    type: 'line',
    data: {
      datasets: [
        { data: pts, showLine: false, pointRadius: 2.1, pointBorderWidth: 0.75, pointBorderColor: '#262626', pointBackgroundColor: clear, order: 6 } as any,
        { data: band(f.olsLo), ...edge, fill: false, order: 5 },
        { data: band(f.olsHi), ...edge, fill: 1, backgroundColor: 'rgba(173,216,230,0.42)', order: 5 },
        { data: ends(f.ols), borderColor: '#1a1aff', borderWidth: 1.1, pointRadius: 0, fill: false, order: 4 },
        { data: band(f.robLo), ...edge, fill: false, order: 3 },
        { data: band(f.robHi), ...edge, fill: 4, backgroundColor: 'rgba(215,40,90,0.15)', order: 3 },
        { data: ends(f.rob), borderColor: '#ff0000', borderWidth: 1.1, pointRadius: 0, fill: false, order: 2 },
      ],
    },
    options: {
      responsive: false,
      animation: false,
      devicePixelRatio: 1,
      events: [],
      layout: { padding: { top: STRIP_H, right: RPAD, left: 0, bottom: 0 }, autoPadding: false } as any,
      plugins: { legend: { display: false }, tooltip: { enabled: false }, facetDeco: { name: f.name } } as any,
      scales: {
        x: {
          type: 'linear', min: f.xlim[0], max: f.xlim[1],
          afterBuildTicks: (s: any) => { s.ticks = allX.map((v) => ({ value: v })); },
          afterFit: (s: any) => { s.height = XAX_H; s.paddingLeft = 0; s.paddingRight = 0; },
          ticks: { autoSkip: false, maxRotation: 0, minRotation: 0, padding: 0, font: tickFont, color: '#4d4d4d',
            callback: (v: any) => (isMajor(f.xticks, v) ? Number(v).toFixed(f.xdec) : '') },
          grid: { color: gridColor(f.xticks), tickColor: tickColor(f.xticks), tickLength: 3, lineWidth: 1 },
          border: { display: false },
        },
        y: {
          type: 'linear', min: f.ylim[0], max: f.ylim[1],
          afterBuildTicks: (s: any) => { s.ticks = allY.map((v) => ({ value: v })); },
          afterFit: (s: any) => { s.width = yW; s.paddingTop = 0; s.paddingBottom = 0; },
          ticks: { autoSkip: false, padding: 1, font: tickFont, color: '#4d4d4d',
            callback: (v: any) => (isMajor(f.yticks, v) ? Number(v).toFixed(yDec) : '') },
          grid: { color: gridColor(f.yticks), tickColor: tickColor(f.yticks), tickLength: 3, lineWidth: 1 },
          border: { display: false },
        },
      },
    } as any,
    plugins: [facetPlugin],
  });
}

const shadowPlugin = {
  id: 'vennShadow',
  beforeDatasetDraw(chart: any) {
    const ctx = chart.ctx;
    ctx.save();
    ctx.shadowColor = 'rgba(0,0,0,0.22)';
    ctx.shadowBlur = 6;
    ctx.shadowOffsetX = 3;
    ctx.shadowOffsetY = 3;
  },
  afterDatasetDraw(chart: any) { chart.ctx.restore(); },
};

const vennTextPlugin = {
  id: 'vennText',
  afterDatasetsDraw(chart: any) {
    const { ctx, scales } = chart;
    const counts: number[] = chart.options.plugins.vennText.counts;
    ctx.save();
    ctx.fillStyle = '#111';
    ctx.textAlign = 'center';
    ctx.textBaseline = 'middle';
    ctx.font = 'bold 9.5px "DejaVu Sans", sans-serif';
    counts.forEach((c, i) => {
      const p = VENN_REGION_POS[i];
      ctx.fillText(String(c), scales.x.getPixelForValue(p[0]), scales.y.getPixelForValue(p[1]));
    });
    ctx.font = 'bold 9px "DejaVu Sans", sans-serif';
    VENN_SET_LABELS.forEach((t, i) => {
      const p = VENN_LABEL_POS[i];
      ctx.fillText(t, scales.x.getPixelForValue(p[0]), scales.y.getPixelForValue(p[1]));
    });
    ctx.restore();
  },
};

function makeVenn(canvas: HTMLCanvasElement, counts: number[], originX: number, originY: number) {
  const W = canvas.width, H = canvas.height;
  const drawOrder = [3, 1, 2];
  return new Chart(canvas, {
    type: 'bubble',
    data: {
      datasets: VENN_CENTERS.map((c, i) => ({
        data: [{ x: c[0], y: c[1], r: VENN_R - 1 }],
        backgroundColor: VENN_FILL[i],
        borderColor: VENN_EDGE[i],
        borderWidth: 2,
        clip: false,
        order: drawOrder[i],
      })) as any,
    },
    options: {
      responsive: false,
      animation: false,
      devicePixelRatio: 1,
      events: [],
      layout: { padding: 0, autoPadding: false } as any,
      plugins: { legend: { display: false }, tooltip: { enabled: false }, vennText: { counts } } as any,
      scales: {
        x: { type: 'linear', display: false, min: -originX / VENN_R, max: (W - originX) / VENN_R },
        y: { type: 'linear', display: false, min: -(H - originY) / VENN_R, max: originY / VENN_R },
      },
    } as any,
    plugins: [shadowPlugin, vennTextPlugin],
  });
}

const txt = (extra: React.CSSProperties): React.CSSProperties => ({
  position: 'absolute', fontFamily: FONT, color: '#1a1a1a', whiteSpace: 'nowrap', lineHeight: 1, ...extra,
});
// rotated title centred on (cx, cy) with whole-pixel box so the glyphs stay crisp
const vtxt = (cx: number, cy: number): React.CSSProperties => ({
  position: 'absolute', fontFamily: FONT, color: '#1a1a1a', whiteSpace: 'nowrap', fontSize: 9,
  width: 100, height: 10, lineHeight: '10px', textAlign: 'center',
  left: cx - 50, top: cy - 5, transform: 'rotate(-90deg)', transformOrigin: '50px 5px',
});

export default function App() {
  const facetRefs = useRef<(HTMLCanvasElement | null)[]>([]);
  const vennC = useRef<HTMLCanvasElement>(null);
  const vennD = useRef<HTMLCanvasElement>(null);

  useEffect(() => {
    document.body.style.margin = '0';
    document.body.style.background = '#fff';
    const charts: Chart[] = [];
    FACETS.forEach((f, i) => {
      const c = facetRefs.current[i];
      if (c) charts.push(makeFacet(c, f, facetBox(f).yW));
    });
    if (vennC.current) charts.push(makeVenn(vennC.current, VENN_C_COUNTS, 179, 147.5));
    if (vennD.current) charts.push(makeVenn(vennD.current, VENN_D_COUNTS, 184, 147.5));
    return () => charts.forEach((c) => c.destroy());
  }, []);

  return (
    <div style={{ position: 'relative', width: 700, height: 791, background: '#fff', overflow: 'hidden' }}>
      {FACETS.map((f, i) => {
        const b = facetBox(f);
        return (
          <canvas key={f.name} ref={(el) => { facetRefs.current[i] = el; }} width={b.width} height={b.height}
            style={{ position: 'absolute', left: b.left, top: b.top, width: b.width, height: b.height }} />
        );
      })}
      <canvas ref={vennC} width={350} height={271} style={{ position: 'absolute', left: 0, top: 520, width: 350, height: 271 }} />
      <canvas ref={vennD} width={350} height={271} style={{ position: 'absolute', left: 350, top: 520, width: 350, height: 271 }} />

      <div style={txt({ left: 8, top: 1, fontSize: 14, fontWeight: 'bold', color: '#000' })}>a</div>
      <div style={txt({ left: 356, top: 1, fontSize: 14, fontWeight: 'bold', color: '#000' })}>b</div>
      <div style={txt({ left: 8, top: 551, fontSize: 14, fontWeight: 'bold', color: '#000' })}>c</div>
      <div style={txt({ left: 359, top: 551, fontSize: 14, fontWeight: 'bold', color: '#000' })}>d</div>

      <div style={vtxt(8, 254)}>Body mass index</div>
      <div style={vtxt(359, 260)}>Milk yield</div>
      <div style={txt({ left: 132, top: 510, width: 100, textAlign: 'center', fontSize: 9 })}>Log2 TMM values</div>
      <div style={txt({ left: 487, top: 510, width: 100, textAlign: 'center', fontSize: 9 })}>log2 TMM values</div>

      <div style={txt({ left: 233, top: 524, fontSize: 11.5, fontWeight: 'bold', color: '#000' })}>Methods</div>
      <div style={{ position: 'absolute', left: 288, top: 523, width: 12, height: 12, border: '1px solid #d0d0d0', background: '#fff' }}>
        <div style={{ position: 'absolute', left: 1, top: 5, width: 10, height: 3, background: '#0000ff' }} />
      </div>
      <div style={txt({ left: 305, top: 525, fontSize: 8.2 })}>Ordinary regression</div>
      <div style={{ position: 'absolute', left: 388, top: 523, width: 12, height: 12, border: '1px solid #d0d0d0', background: '#fff' }}>
        <div style={{ position: 'absolute', left: 1, top: 5, width: 10, height: 3, background: '#ff0000' }} />
      </div>
      <div style={txt({ left: 405, top: 525, fontSize: 8.2 })}>Robust regression</div>
    </div>
  );
}
